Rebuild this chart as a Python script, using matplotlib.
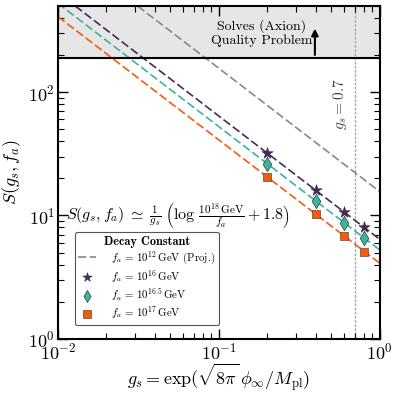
import matplotlib
matplotlib.use("Agg")
import matplotlib.pyplot as plt
import numpy as np

plt.rcParams['mathtext.fontset'] = 'cm'
plt.rcParams['font.family'] = ['cmr10', 'DejaVu Serif']
plt.rcParams['axes.formatter.use_mathtext'] = True

# data
gs_points = [0.2, 0.4, 0.6, 0.8]
S_1e16 = [32.0, 16.0, 10.7, 8.0]
S_1e165 = [26.3, 13.1, 8.75, 6.6]
S_1e17 = [20.5, 10.3, 6.8, 5.1]
gs_line = [0.01, 1.0]
L_1e12 = [1560, 15.6]
L_1e16 = [640, 6.4]
L_1e165 = [525, 5.25]
L_1e17 = [410, 4.1]
quality_threshold = 190
gs_max = 0.7

c_purple = '#46295f'
c_teal = '#3db39b'
c_orange = '#f45b0d'

fig = plt.figure(figsize=(3.99, 3.94), dpi=100)
ax = fig.add_axes([0.145, 0.140, 0.807, 0.845])
ax.set_xscale('log')
ax.set_yscale('log')
ax.set_xlim(1e-2, 1)
ax.set_ylim(1, 500)

ax.axhspan(quality_threshold, 1000, color='#e6e6e6', zorder=0)
ax.axhline(quality_threshold, color='black', lw=1.5, zorder=3)
ax.axvline(gs_max, color='#aaaaaa', lw=1.0, ls=(0, (2, 1)), zorder=1)

ax.plot(gs_line, L_1e12, color='#888888', lw=1.2, ls=(0, (5, 2)), zorder=2)
ax.plot(gs_line, L_1e16, color=c_purple, lw=1.2, ls=(0, (5, 2)), zorder=2)
ax.plot(gs_line, L_1e165, color=c_teal, lw=1.2, ls=(0, (5, 2)), zorder=2)
ax.plot(gs_line, L_1e17, color=c_orange, lw=1.2, ls=(0, (5, 2)), zorder=2)

ax.scatter(gs_points, S_1e16, marker='*', s=75, color=c_purple, edgecolor='#222222', lw=0.3, zorder=4)
ax.scatter(gs_points, S_1e165, marker='d', s=55, color=c_teal, edgecolor='#222222', lw=0.4, zorder=4)
ax.scatter(gs_points, S_1e17, marker='s', s=35, color=c_orange, edgecolor='#333333', lw=0.4, zorder=4)

# legend proxies
h0, = ax.plot([], [], color='#888888', lw=1.2, ls=(0, (5, 2)))
h1 = ax.scatter([], [], marker='*', s=50, color=c_purple, edgecolor='#222222', lw=0.3)
h2 = ax.scatter([], [], marker='d', s=38, color=c_teal, edgecolor='#222222', lw=0.4)
h3 = ax.scatter([], [], marker='s', s=26, color=c_orange, edgecolor='#333333', lw=0.4)
leg = ax.legend([h0, h1, h2, h3],
                [r'$f_a\, =\, 10^{12}\,\mathrm{GeV}$ (Proj.)',
                 r'$f_a\, =\, 10^{16}\,\mathrm{GeV}$',
                 r'$f_a\, =\, 10^{16.5}\,\mathrm{GeV}$',
                 r'$f_a\, =\, 10^{17}\,\mathrm{GeV}$'],
                loc='lower left', bbox_to_anchor=(0.035, 0.025), fontsize=7.8,
                title='Decay Constant', title_fontproperties={'family': 'cmb10', 'size': 8.8},
                frameon=True, fancybox=True, edgecolor='#555555', framealpha=1,
                handlelength=1.6, handletextpad=1.4, borderpad=0.35, labelspacing=0.15)
leg.get_frame().set_linewidth(0.8)

ax.text(0.0112, 9.8, r'$S(g_s, f_a) \;\simeq\; \frac{1}{g_s}\;\left(\log\,\frac{10^{18}\,\mathrm{GeV}}{f_a} + 1.8\right)$',
        fontsize=11.5, ha='left', va='center')

ax.text(0.185, 300, 'Solves (Axion)\nQuality Problem', family='cmr10', fontsize=10,
        ha='center', va='center', linespacing=1.1)
ax.annotate('', xy=(0.395, 345), xytext=(0.395, quality_threshold),
            arrowprops=dict(arrowstyle='-|>', color='black', lw=1.5, mutation_scale=10))

ax.text(0.565, 80, r'$g_s = 0.7$', rotation=90, fontsize=11, color='#444444',
        ha='center', va='center')

ax.set_xlabel(r'$g_s = \exp(\sqrt{8\pi}\,\phi_\infty/M_{\rm pl})$', fontsize=13, labelpad=0)
ax.set_ylabel(r'$S(g_s, f_a)$', fontsize=13, labelpad=4)

ax.tick_params(which='both', direction='in', top=True, right=True)
ax.tick_params(which='major', length=7, width=1, labelsize=13, pad=2)
ax.tick_params(which='minor', length=4, width=0.8)
for s in ax.spines.values():
    s.set_linewidth(1.5)

fig.savefig('out.png', dpi=100)
